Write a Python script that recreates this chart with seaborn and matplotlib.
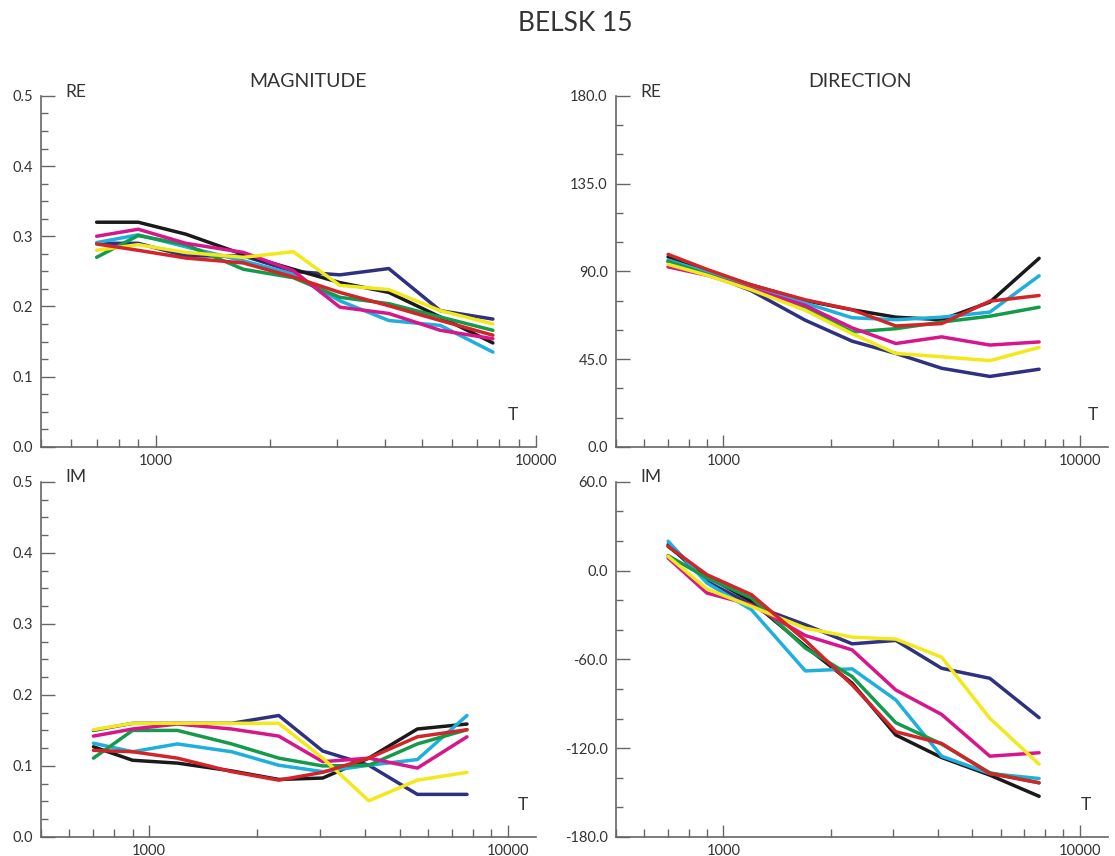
import numpy as np
import pandas as pd
import matplotlib
matplotlib.use('Agg')
import matplotlib.pyplot as plt
import matplotlib.ticker as mticker
import seaborn as sns

# periods (s) shared by all curves
periods = [700, 900, 1200, 1700, 2300, 3050, 4100, 5600, 7700]
order = ['navy', 'black', 'cyan', 'green', 'magenta', 'yellow', 'red']
palette = {'navy': '#2e3182', 'black': '#1a1a1a', 'cyan': '#1eb0dc',
           'green': '#139a4a', 'magenta': '#d8168c', 'yellow': '#f2e81a',
           'red': '#d3242a'}

# RE magnitude
re_mag = {
    'navy':    [0.290, 0.290, 0.272, 0.272, 0.250, 0.245, 0.254, 0.194, 0.182],
    'black':   [0.320, 0.320, 0.303, 0.274, 0.253, 0.234, 0.220, 0.185, 0.148],
    'cyan':    [0.291, 0.302, 0.285, 0.265, 0.246, 0.208, 0.180, 0.173, 0.135],
    'green':   [0.270, 0.301, 0.288, 0.253, 0.241, 0.213, 0.204, 0.185, 0.166],
    'magenta': [0.300, 0.310, 0.290, 0.277, 0.251, 0.199, 0.190, 0.166, 0.154],
    'yellow':  [0.280, 0.288, 0.277, 0.270, 0.278, 0.230, 0.224, 0.194, 0.175],
    'red':     [0.289, 0.280, 0.269, 0.262, 0.242, 0.220, 0.201, 0.180, 0.159],
}
# RE direction (deg)
re_dir = {
    'navy':    [95.0, 89.0, 80.0, 64.9, 54.2, 47.9, 40.3, 36.1, 39.8],
    'black':   [97.4, 90.0, 83.0, 75.0, 70.3, 66.5, 65.2, 74.2, 96.7],
    'cyan':    [95.8, 89.5, 82.0, 73.7, 66.2, 65.2, 66.5, 69.1, 87.7],
    'green':   [95.0, 88.5, 81.0, 71.3, 58.9, 60.6, 64.0, 67.0, 71.6],
    'magenta': [92.3, 88.0, 81.0, 72.5, 61.0, 53.0, 56.4, 52.2, 53.8],
    'yellow':  [93.6, 88.0, 80.5, 70.0, 58.0, 47.9, 46.2, 44.2, 51.0],
    'red':     [98.7, 91.0, 83.0, 75.4, 70.3, 62.0, 63.2, 74.7, 77.6],
}
# IM magnitude
im_mag = {
    'navy':    [0.150, 0.160, 0.160, 0.160, 0.171, 0.121, 0.101, 0.060, 0.060],
    'black':   [0.127, 0.108, 0.104, 0.093, 0.081, 0.083, 0.111, 0.152, 0.159],
    'cyan':    [0.132, 0.120, 0.131, 0.120, 0.101, 0.092, 0.101, 0.109, 0.171],
    'green':   [0.111, 0.150, 0.150, 0.131, 0.111, 0.100, 0.101, 0.131, 0.151],
    'magenta': [0.142, 0.152, 0.159, 0.152, 0.142, 0.106, 0.111, 0.097, 0.141],
    'yellow':  [0.151, 0.160, 0.160, 0.160, 0.160, 0.111, 0.051, 0.080, 0.091],
    'red':     [0.122, 0.120, 0.111, 0.092, 0.080, 0.091, 0.111, 0.141, 0.151],
}
# IM direction (deg)
im_dir = {
    'navy':    [17.5, -7.3, -23.2, -36.6, -49.5, -47.2, -66.0, -72.8, -99.4],
    'black':   [16.4, -3.9, -20.8, -51.3, -76.1, -111.1, -126.3, -138.2, -152.5],
    'cyan':    [19.8, -8.4, -26.5, -67.8, -66.4, -87.4, -125.4, -137.1, -140.5],
    'green':   [10.1, -5.0, -18.5, -52.4, -71.6, -102.8, -117.2, -136.6, -143.4],
    'magenta': [8.5, -15.2, -23.1, -43.9, -53.6, -80.7, -97.2, -125.4, -123.1],
    'yellow':  [9.6, -12.5, -24.2, -38.9, -45.0, -46.3, -58.5, -99.8, -130.8],
    'red':     [16.4, -2.8, -16.3, -47.3, -77.3, -108.9, -116.8, -137.1, -143.4],
}

sns.set_style('ticks')
plt.rcParams['font.family'] = ['Lato', 'DejaVu Sans']
axis_col = '#666666'
text_col = '#333333'

fig = plt.figure(figsize=(11.15, 8.56), dpi=100)


def panel(rect, data, xmax, ylim, major, minor, tag):
    ax = fig.add_axes(rect)
    df = pd.DataFrame({
        'T': np.tile(periods, len(order)),
        'v': np.concatenate([data[k] for k in order]),
        's': np.repeat(order, len(periods)),
    })
    sns.lineplot(data=df, x='T', y='v', hue='s', hue_order=order, palette=palette,
                 estimator=None, sort=False, lw=2.5, legend=False, ax=ax)
    ax.set_xscale('log')
    ax.set_xlim(500, xmax)
    ax.set_ylim(*ylim)
    ax.set_xlabel('')
    ax.set_ylabel('')
    for s in ['top', 'right']:
        ax.spines[s].set_visible(False)
    for s in ['left', 'bottom']:
        ax.spines[s].set_color(axis_col)
        ax.spines[s].set_linewidth(1.2)
    ax.xaxis.set_major_locator(mticker.FixedLocator([1000, 10000]))
    ax.xaxis.set_major_formatter(mticker.FixedFormatter(['1000', '10000']))
    ax.xaxis.set_minor_locator(mticker.LogLocator(base=10, subs=np.arange(2, 10)))
    ax.xaxis.set_minor_formatter(mticker.NullFormatter())
    ax.yaxis.set_major_locator(mticker.MultipleLocator(major))
    ax.yaxis.set_minor_locator(mticker.MultipleLocator(minor))
    ax.yaxis.set_major_formatter(mticker.FormatStrFormatter('%.1f'))
    ax.tick_params(which='both', direction='in', color=axis_col, width=1.0,
                   bottom=True, left=True, top=False, right=False,
                   labelcolor=text_col, labelsize=10.5)
    ax.tick_params(axis='x', which='major', length=9, pad=5)
    ax.tick_params(axis='x', which='minor', length=6)
    ax.tick_params(axis='y', which='major', length=10, pad=6)
    ax.tick_params(axis='y', which='minor', length=5)
    ax.text(0.05, 1.012, tag, transform=ax.transAxes, ha='left', va='center',
            fontsize=12.5, color=text_col)
    return ax


ax1 = panel([0.0368, 0.478, 0.444, 0.410], re_mag, 10000, (0, 0.5), 0.1, 0.025, 'RE')
ax2 = panel([0.5525, 0.478, 0.441, 0.410], re_dir, 12000, (0, 180), 45, 15, 'RE')
ax3 = panel([0.0368, 0.0222, 0.444, 0.415], im_mag, 12000, (0, 0.5), 0.1, 0.025, 'IM')
ax4 = panel([0.5525, 0.0222, 0.441, 0.415], im_dir, 12000, (-180, 60), 60, 20, 'IM')

for ax, xt in [(ax1, 0.953), (ax2, 0.97), (ax3, 0.974), (ax4, 0.955)]:
    ax.text(xt, 0.09, 'T', transform=ax.transAxes, ha='center', va='center',
            fontsize=12.5, color=text_col)

fig.text(0.516, 0.972, 'BELSK 15', ha='center', va='center', fontsize=19,
         color=text_col)
fig.text(0.276, 0.905, 'MAGNITUDE', ha='center', va='center', fontsize=14,
         color=text_col)
fig.text(0.771, 0.905, 'DIRECTION', ha='center', va='center', fontsize=14,
         color=text_col)

fig.savefig('out.png', dpi=100)
